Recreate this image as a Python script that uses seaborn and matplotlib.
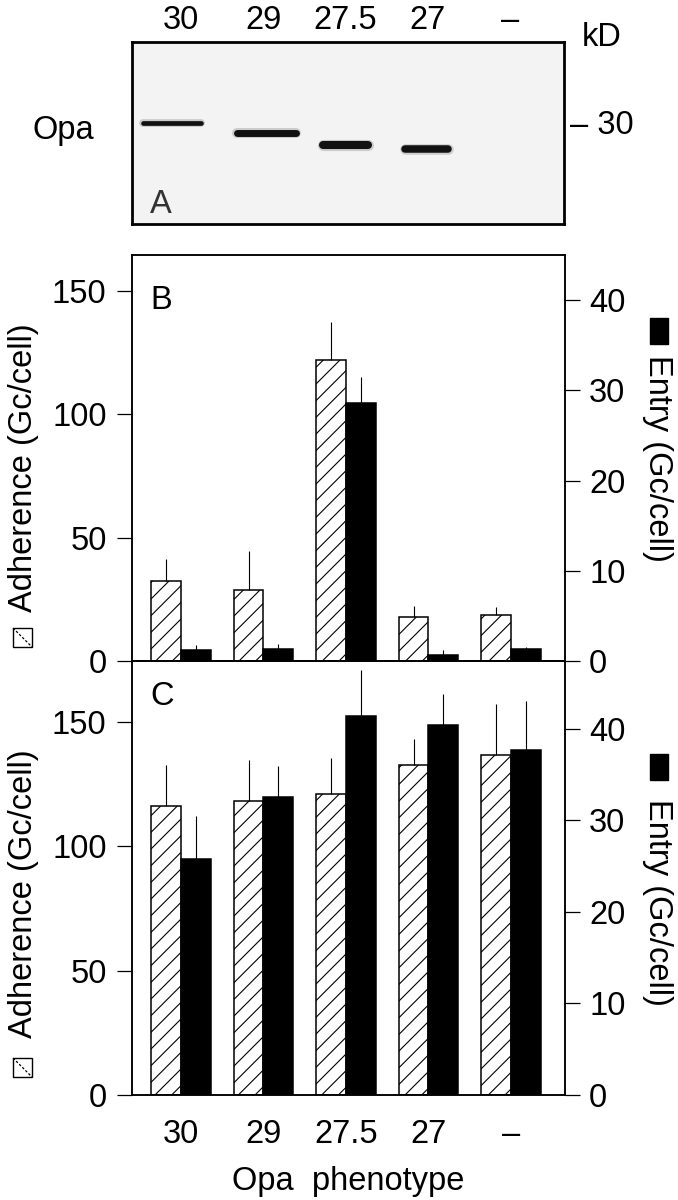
import numpy as np
import pandas as pd
import matplotlib
matplotlib.use('Agg')
import matplotlib.pyplot as plt
from matplotlib.patches import Rectangle
from matplotlib.lines import Line2D
import seaborn as sns

sns.set_theme(style='ticks', rc={'axes.edgecolor': 'black', 'xtick.color': 'black',
                                  'ytick.color': 'black', 'text.color': 'black',
                                  'axes.labelcolor': 'black', 'hatch.linewidth': 0.8})
plt.rcParams['font.family'] = ['Liberation Sans', 'DejaVu Sans']

# Opa phenotypes (lanes of the blot / bar groups)
phenotypes = ['30', '29', '27.5', '27', '–']
series = ['Adherence', 'Entry']

# Panel A: apparent size (kD) of the Opa band in each lane
band_kd = [29.9, 28.9, 27.7, 27.3, np.nan]
marker_kd = [30]

# Panel B
adherence_b = [32.3, 28.9, 122.2, 17.8, 18.8]
adherence_b_err = [9.0, 15.5, 15.1, 4.4, 3.1]
entry_b = [1.2, 1.3, 28.6, 0.7, 1.3]
entry_b_err = [0.55, 0.55, 2.9, 0.55, 0.3]

# Panel C
adherence_c = [116.3, 118.3, 121.2, 132.8, 136.7]
adherence_c_err = [16.4, 16.5, 14.1, 10.4, 20.4]
entry_c = [25.8, 32.5, 41.4, 40.4, 37.7]
entry_c_err = [4.7, 3.4, 5.0, 3.35, 5.3]

FS = 23.5
W, H = 678, 1200
XLIM = (-0.594, 4.655)


def box(left, top, right, bottom):
    return [left / W, 1 - bottom / H, (right - left) / W, (bottom - top) / H]


fig = plt.figure(figsize=(W / 100, H / 100), dpi=100)
ax_a = fig.add_axes(box(132, 42, 564, 224))
ax_b = fig.add_axes(box(132, 255, 565, 661))
ax_c = fig.add_axes(box(132, 661, 565, 1095))

# ---- Panel A: western blot
ax_a.set_facecolor('#f3f3f3')
# x offset, half width, line width for each lane's band
band_style = [(-0.11, 0.35, 3.4), (0.04, 0.36, 5.0), (0.0, 0.27, 5.8), (-0.02, 0.26, 5.4), (0, 0, 0)]
for i, kd in enumerate(band_kd):
    if np.isnan(kd):
        continue
    dx, hw, lw = band_style[i]
    xs = [i + dx - hw, i + dx + hw]
    ax_a.plot(xs, [kd, kd], color='#555', lw=lw + 2.2, alpha=0.25, solid_capstyle='round')
    ax_a.plot(xs, [kd, kd], color='#111', lw=lw, solid_capstyle='round')
ax_a.set_xlim(XLIM)
ax_a.set_ylim(19.75, 37.95)
ax_a.set_xticks(range(len(phenotypes)), labels=phenotypes)
ax_a.xaxis.tick_top()
ax_a.tick_params(axis='x', length=0, pad=4.5, labelsize=FS)
ax_a.yaxis.tick_right()
ax_a.set_yticks(marker_kd, labels=['– 30'])
ax_a.tick_params(axis='y', length=0, pad=4.3, labelsize=FS)
for s in ax_a.spines.values():
    s.set_linewidth(2)
ax_a.text(0.067, 0.126, 'A', transform=ax_a.transAxes, color='#333', fontsize=FS,
          ha='center', va='center_baseline')
fig.text(602 / W, 1 - 37 / H, 'kD', ha='center', va='center', fontsize=FS)
fig.text(63 / W, 1 - 130 / H, 'Opa', ha='center', va='center', fontsize=FS)


# ---- Panels B and C: adherence (hatched, left axis) and entry (black, right axis)
def draw_panel(ax, adh, adh_err, ent, ent_err, left_top, right_top, letter, letter_pos):
    ax2 = ax.twinx()
    adh_df = pd.DataFrame({'phenotype': phenotypes, 'value': adh, 'series': 'Adherence'})
    ent_df = pd.DataFrame({'phenotype': phenotypes, 'value': ent, 'series': 'Entry'})
    common = dict(x='phenotype', y='value', hue='series', order=phenotypes, hue_order=series,
                  palette={'Adherence': 'white', 'Entry': 'black'}, width=0.72, gap=0,
                  dodge=True, errorbar=None, edgecolor='black', linewidth=1.1, legend=False)
    sns.barplot(data=adh_df, ax=ax, hatch='//', **common)
    sns.barplot(data=ent_df, ax=ax2, **common)
    for a, vals, errs in ((ax, adh, adh_err), (ax2, ent, ent_err)):
        bars = sorted(a.patches, key=lambda p: p.get_x())
        xs = [p.get_x() + p.get_width() / 2 for p in bars]
        a.errorbar(xs, vals, yerr=[np.zeros(len(errs)), errs], fmt='none',
                   ecolor='black', elinewidth=0.8, capsize=0)
    ax.set_xlim(XLIM)
    ax.set_ylim(0, left_top)
    ax2.set_ylim(0, right_top)
    ax.set_yticks([0, 50, 100, 150])
    ax2.set_yticks([0, 10, 20, 30, 40])
    for a in (ax, ax2):
        a.set_xlabel('')
        a.set_ylabel('')
        for s in a.spines.values():
            s.set_linewidth(1.1)
    ax.tick_params(axis='y', length=10.8, width=0.9, pad=7.5, labelsize=FS)
    ax2.tick_params(axis='y', length=10.8, width=0.9, pad=6.5, labelsize=FS)
    ax.tick_params(axis='x', length=0, labelsize=FS)
    ax.text(*letter_pos, letter, transform=ax.transAxes, fontsize=FS,
            ha='center', va='center_baseline')
    return ax2


draw_panel(ax_b, adherence_b, adherence_b_err, entry_b, entry_b_err, 164.6, 45.0, 'B', (0.067, 0.897))
draw_panel(ax_c, adherence_c, adherence_c_err, entry_c, entry_c_err, 174.5, 47.4, 'C', (0.069, 0.926))
ax_b.tick_params(axis='x', labelbottom=False)
ax_c.tick_params(axis='x', pad=17.5)
ax_c.set_xlabel('Opa  phenotype', fontsize=FS, labelpad=11)


# axis titles with their key swatches (pixel boxes in figure space)
def swatch(x0, y0, x1, y1, filled):
    fig.add_artist(Rectangle((x0 / W, 1 - y1 / H), (x1 - x0) / W, (y1 - y0) / H,
                             transform=fig.transFigure, lw=1.0, edgecolor='black',
                             facecolor='black' if filled else 'white'))
    if not filled:
        fig.add_artist(Line2D([x0 / W, x1 / W], [1 - y0 / H, 1 - y1 / H], transform=fig.transFigure,
                              color='black', lw=0.9, ls=(0, (2, 1.5))))


for yc_left, sw_left, yc_right, sw_right in ((468, 628, 458, 318), (894, 1058, 902, 754)):
    fig.text(24 / W, 1 - yc_left / H, 'Adherence (Gc/cell)', rotation=90,
             ha='center', va='center', fontsize=FS)
    swatch(13, sw_left, 32, sw_left + 19, False)
    fig.text(658 / W, 1 - yc_right / H, 'Entry (Gc/cell)', rotation=-90,
             ha='center', va='center', fontsize=FS)
    swatch(650, sw_right, 668, sw_right + 26, True)

fig.savefig('out.png', dpi=100)
